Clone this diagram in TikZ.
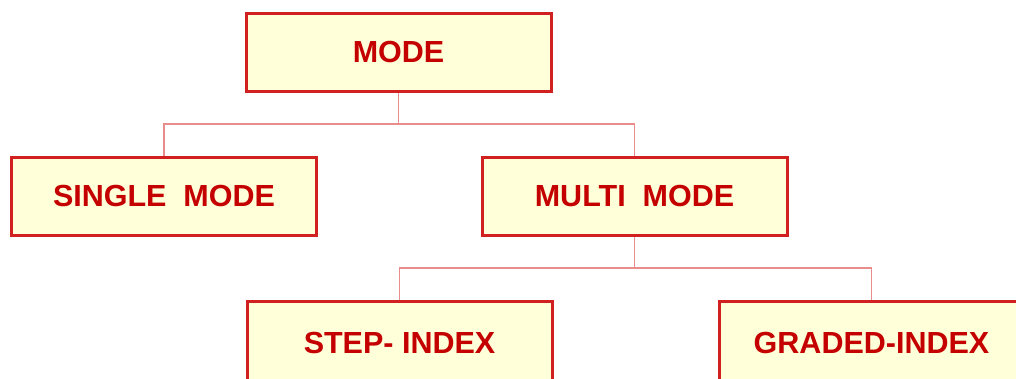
\documentclass[tikz,border=0pt]{standalone}
\usepackage{fontspec}
\setmainfont{Liberation Sans}
\definecolor{boxfill}{RGB}{255,255,217}
\definecolor{boxline}{RGB}{208,32,32}
\definecolor{boxtext}{RGB}{196,0,0}
\definecolor{connline}{RGB}{232,140,140}
\tikzset{
  modebox/.style={draw=boxline, fill=boxfill, line width=3pt, rectangle,
    minimum width=305pt, minimum height=78pt, inner sep=0pt,
    text=boxtext, font=\fontsize{30.5}{35}\selectfont\bfseries},
  lowbox/.style={modebox, minimum height=82pt},
  conn/.style={draw=connline, line width=1.6pt}
}
\begin{document}
\begin{tikzpicture}[x=1pt,y=-1pt]
\useasboundingbox (0,0) rectangle (1016,379);
\begin{scope}
\clip (0,0) rectangle (1016,379);
\node[modebox] (mode) at (398.5,52.5) {MODE};
\node[modebox] (single) at (164,196.5) {SINGLE\ \ MODE};
\node[modebox] (multi) at (634.5,196.5) {MULTI\ \ MODE};
\node[lowbox] (step) at (399.5,342.5) {STEP- INDEX};
\node[lowbox] (graded) at (871.5,342.5) {GRADED-INDEX};
\coordinate (j1) at (mode.south |- 0,124);
\coordinate (j2) at (multi.south |- 0,268);
\draw[conn] (mode.south) -- (j1) -| (single.north);
\draw[conn] (j1) -| (multi.north);
\draw[conn] (multi.south) -- (j2) -| (step.north);
\draw[conn] (j2) -| (graded.north);
\end{scope}
\end{tikzpicture}
\end{document}
